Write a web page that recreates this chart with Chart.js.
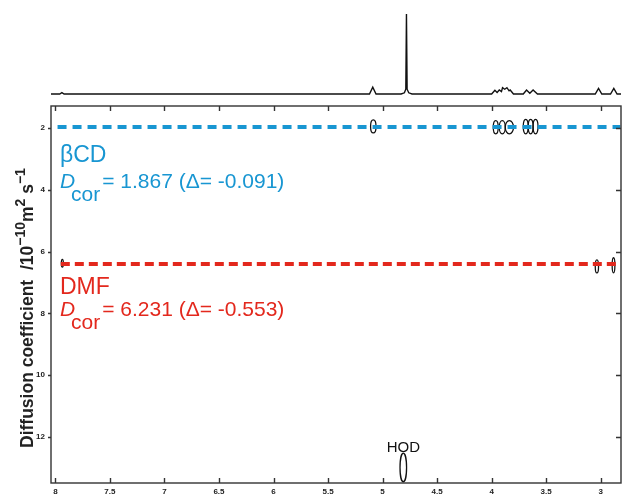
<!DOCTYPE html>
<html>
<head>
<meta charset="utf-8">
<script src="https://cdn.jsdelivr.net/npm/chart.js@4.4.1/dist/chart.umd.min.js"></script>
<style>
    html, body { margin: 0; padding: 0; background: #fff; }
    #wrap { position: relative; width: 623px; height: 494px; }
    #wrap canvas { position: absolute; left: 0; top: 0; }
</style>
</head>
<body>
<div id="wrap">
    <canvas id="dosy" width="623" height="494"></canvas>
    <canvas id="spectrum" width="623" height="106"></canvas>
</div>
<script>
const xTicks = [8, 7.5, 7, 6.5, 6, 5.5, 5, 4.5, 4, 3.5, 3];
const yTicks = [2, 4, 6, 8, 10, 12];

// 1D 1H trace above the DOSY map (ppm, relative intensity)
const specPpm = [8.04, 7.96, 7.94, 7.92, 5.12, 5.09, 5.06, 4.83, 4.80, 4.787, 4.781, 4.775, 4.76, 4.73,
    4.00, 3.97, 3.95, 3.93, 3.91, 3.90, 3.88, 3.86, 3.84, 3.83, 3.80, 3.71, 3.68, 3.65, 3.62, 3.58,
    3.05, 3.02, 2.99, 2.91, 2.88, 2.85, 2.81];
const specInt = [0, 0, 0.017, 0, 0, 0.085, 0, 0, 0.015, 0.06, 1.0, 0.06, 0.015, 0,
    0, 0.046, 0.02, 0.05, 0.03, 0.079, 0.06, 0.079, 0.04, 0.05, 0, 0, 0.05, 0.01, 0.05, 0,
    0, 0.07, 0, 0, 0.07, 0, 0];

// fitted diffusion lines
const cdPpm = [7.98, 2.82];
const cdD = 1.97;
const dmfPpm = [7.95, 2.83];
const dmfD = 6.40;

// contour extents (ppm range, D range)
const contourPpmHi = [5.11, 3.985, 3.93, 3.875, 3.71, 3.665, 3.62, 7.945, 3.05, 2.895, 4.84];
const contourPpmLo = [5.06, 3.94, 3.875, 3.80, 3.665, 3.62, 3.575, 7.927, 3.02, 2.87, 4.78];
const contourDLo = [1.74, 1.76, 1.76, 1.76, 1.72, 1.72, 1.72, 6.25, 6.27, 6.20, 12.52];
const contourDHi = [2.16, 2.19, 2.19, 2.19, 2.19, 2.19, 2.19, 6.50, 6.69, 6.69, 13.45];

const FONT = '"Liberation Sans", Arial, sans-serif';
const BLUE = "#1896d2";
const RED = "#e3281d";
const X_MIN = 2.814;
const X_MAX = 8.04;

const contourPlugin = {
    id: "contours",
    beforeDatasetsDraw(chart) {
        const { ctx, scales: { x, y } } = chart;
        ctx.save();
        ctx.strokeStyle = "#111";
        ctx.lineWidth = 1.3;
        contourPpmHi.forEach((hi, i) => {
            const x1 = x.getPixelForValue(hi);
            const x2 = x.getPixelForValue(contourPpmLo[i]);
            const y1 = y.getPixelForValue(contourDLo[i]);
            const y2 = y.getPixelForValue(contourDHi[i]);
            ctx.beginPath();
            ctx.ellipse((x1 + x2) / 2, (y1 + y2) / 2, Math.max(1, Math.abs(x2 - x1) / 2), Math.abs(y2 - y1) / 2, 0, 0, Math.PI * 2);
            ctx.stroke();
        });
        ctx.restore();
    }
};

const framePlugin = {
    id: "frame",
    afterDraw(chart) {
        const { ctx, chartArea: a, scales: { x, y } } = chart;
        ctx.save();
        ctx.strokeStyle = "#333";
        ctx.lineWidth = 1.4;
        ctx.strokeRect(a.left, a.top, a.right - a.left, a.bottom - a.top);
        ctx.beginPath();
        xTicks.forEach((v) => {
            const px = Math.round(x.getPixelForValue(v)) + 0.5;
            ctx.moveTo(px, a.bottom);
            ctx.lineTo(px, a.bottom - 5);
            ctx.moveTo(px, a.top);
            ctx.lineTo(px, a.top + 5);
        });
        yTicks.forEach((v) => {
            const py = Math.round(y.getPixelForValue(v)) + 0.5;
            ctx.moveTo(a.left - 3, py);
            ctx.lineTo(a.left, py);
            ctx.moveTo(a.right, py);
            ctx.lineTo(a.right - 5, py);
        });
        ctx.stroke();

        // y axis title with superscripts
        ctx.translate(33, 448);
        ctx.rotate(-Math.PI / 2);
        ctx.fillStyle = "#222";
        ctx.textBaseline = "alphabetic";
        const parts = [
            ["Diffusion coefficient  /10", 17.5, 0],
            ["\u221210", 14, -8],
            ["m", 17.5, 0],
            ["2", 14, -8],
            [" s", 17.5, 0],
            ["\u22121", 14, -8]
        ];
        let pos = 0;
        parts.forEach(([t, size, dy]) => {
            ctx.font = "bold " + size + "px " + FONT;
            ctx.fillText(t, pos, dy);
            pos += ctx.measureText(t).width;
        });
        ctx.restore();

        // labels for the two species and HOD
        ctx.save();
        ctx.textBaseline = "alphabetic";
        function dLabel(color, name, nameY, valueText, baseY) {
            ctx.fillStyle = color;
            ctx.font = "23px " + FONT;
            ctx.fillText(name, 60, nameY);
            ctx.font = "italic 21px " + FONT;
            ctx.fillText("D", 60, baseY);
            ctx.font = "21px " + FONT;
            ctx.fillText("cor", 71, baseY + 13);
            const w = ctx.measureText("cor").width;
            ctx.fillText(valueText, 73 + w, baseY);
        }
        dLabel(BLUE, "\u03b2CD", 162, "= 1.867 (\u0394= -0.091)", 188);
        dLabel(RED, "DMF", 294, "= 6.231 (\u0394= -0.553)", 316);

        ctx.fillStyle = "#111";
        ctx.font = "15px " + FONT;
        ctx.textAlign = "center";
        ctx.fillText("HOD", x.getPixelForValue(4.81), 452);
        ctx.restore();
    }
};

function lineData(ppm, d) {
    return ppm.map((v) => ({ x: v, y: d }));
}

new Chart(document.getElementById("dosy").getContext("2d"), {
    type: "scatter",
    data: {
        datasets: [
            {
                data: lineData(cdPpm, cdD),
                showLine: true,
                borderColor: BLUE,
                borderWidth: 4,
                borderDash: [9, 6],
                pointRadius: 0
            },
            {
                data: lineData(dmfPpm, dmfD),
                showLine: true,
                borderColor: RED,
                borderWidth: 4,
                borderDash: [9, 5],
                pointRadius: 0
            }
        ]
    },
    options: {
        responsive: false,
        animation: false,
        layout: { padding: { top: 106, right: 2, left: 0, bottom: 0 } },
        plugins: { legend: { display: false }, tooltip: { enabled: false } },
        scales: {
            x: {
                type: "linear",
                reverse: true,
                min: X_MIN,
                max: X_MAX,
                afterBuildTicks(scale) { scale.ticks = xTicks.map((v) => ({ value: v })); },
                afterFit(scale) { scale.height = 11; },
                grid: { display: false, drawTicks: false },
                border: { display: false },
                ticks: {
                    padding: 4,
                    autoSkip: false,
                    maxRotation: 0,
                    color: "#222",
                    font: { family: FONT, size: 8, weight: "bold" },
                    callback: (v) => String(v)
                }
            },
            y: {
                type: "linear",
                reverse: true,
                min: 1.288,
                max: 13.49,
                afterBuildTicks(scale) { scale.ticks = yTicks.map((v) => ({ value: v })); },
                afterFit(scale) { scale.width = 51; },
                grid: { display: false, drawTicks: false },
                border: { display: false },
                ticks: {
                    padding: 6,
                    color: "#222",
                    font: { family: FONT, size: 8, weight: "bold" },
                    callback: (v) => String(v)
                }
            }
        }
    },
    plugins: [contourPlugin, framePlugin]
});

new Chart(document.getElementById("spectrum").getContext("2d"), {
    type: "scatter",
    data: {
        datasets: [{
            data: specPpm.map((v, i) => ({ x: v, y: specInt[i] })),
            showLine: true,
            borderColor: "#111",
            borderWidth: 1.4,
            pointRadius: 0,
            tension: 0
        }]
    },
    options: {
        responsive: false,
        animation: false,
        layout: { padding: { left: 51, right: 2, top: 0, bottom: 0 } },
        plugins: { legend: { display: false }, tooltip: { enabled: false } },
        scales: {
            x: { type: "linear", reverse: true, min: X_MIN, max: X_MAX, display: false },
            y: { type: "linear", min: -0.15, max: 1.175, display: false }
        }
    }
});
</script>
</body>
</html>
